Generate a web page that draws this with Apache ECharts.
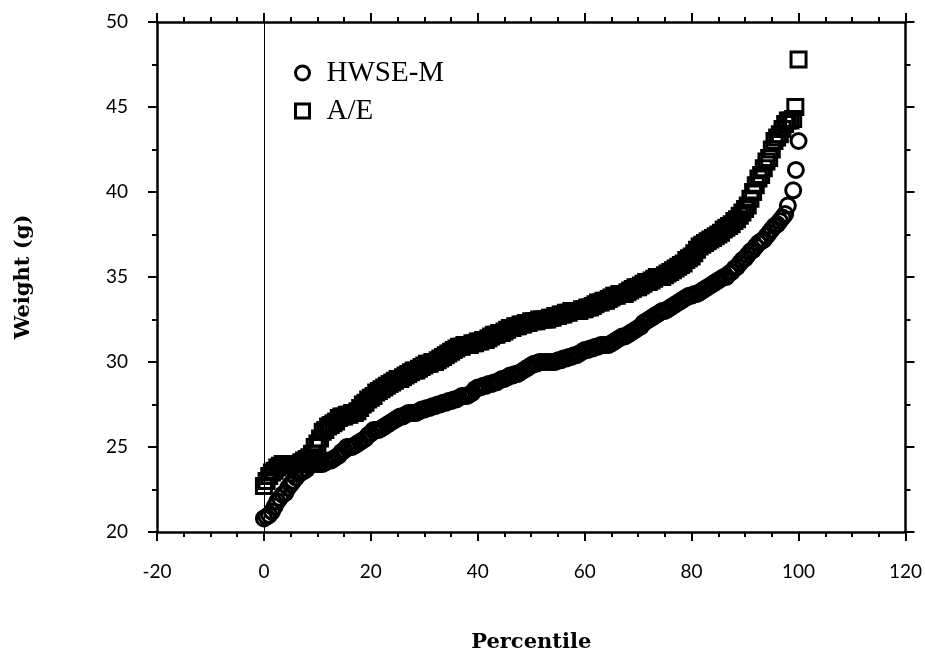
<!DOCTYPE html>
<html>
<head>
<meta charset="utf-8">
<script src="https://cdn.jsdelivr.net/npm/echarts@6/dist/echarts.min.js"></script>
<style>
  html, body { margin: 0; padding: 0; background: #fff; }
  #chart { width: 925px; height: 658px; }
</style>
</head>
<body>
<div id="chart"></div>
<script>
// Percentile vs weight, two methods
const xTicks = { min: -20, max: 120, step: 20 };
const yTicks = { min: 20, max: 50, step: 5 };
const seriesNames = ['HWSE-M', 'A/E'];

// [percentile, weight (g)]
const hwse = [
  [0, 20.8], [0.5, 20.9], [1, 21.0], [1.5, 21.2], [2, 21.5], [2.5, 21.8], [3, 22.0], [3.5, 22.2], [4, 22.3], [4.5, 22.6],
  [5, 22.8], [5.5, 23.0], [6, 23.2], [6.5, 23.4], [7, 23.5], [7.5, 23.6], [8, 23.7], [8.5, 23.9], [9, 24.0], [9.5, 24.0],
  [10, 24.0], [10.5, 24.0], [11, 24.0], [11.5, 24.1], [12, 24.2], [12.5, 24.2], [13, 24.3], [13.5, 24.4], [14, 24.5], [14.5, 24.7],
  [15, 24.8], [15.5, 25.0], [16, 25.0], [16.5, 25.0], [17, 25.1], [17.5, 25.2], [18, 25.3], [18.5, 25.4], [19, 25.5], [19.5, 25.7],
  [20, 25.8], [20.5, 26.0], [21, 26.0], [21.5, 26.0], [22, 26.1], [22.5, 26.2], [23, 26.3], [23.5, 26.4], [24, 26.5], [24.5, 26.6],
  [25, 26.7], [25.5, 26.8], [26, 26.8], [26.5, 26.9], [27, 27.0], [27.5, 27.0], [28, 27.0], [28.5, 27.0], [29, 27.1], [29.5, 27.2],
  [30, 27.2], [30.5, 27.3], [31, 27.3], [31.5, 27.4], [32, 27.4], [32.5, 27.5], [33, 27.5], [33.5, 27.6], [34, 27.6], [34.5, 27.7],
  [35, 27.7], [35.5, 27.8], [36, 27.8], [36.5, 27.9], [37, 28.0], [37.5, 28.0], [38, 28.0], [38.5, 28.1], [39, 28.2], [39.5, 28.4],
  [40, 28.5], [40.5, 28.5], [41, 28.6], [41.5, 28.6], [42, 28.7], [42.5, 28.7], [43, 28.8], [43.5, 28.8], [44, 28.9], [44.5, 29.0],
  [45, 29.0], [45.5, 29.1], [46, 29.2], [46.5, 29.2], [47, 29.3], [47.5, 29.3], [48, 29.4], [48.5, 29.5], [49, 29.6], [49.5, 29.7],
  [50, 29.8], [50.5, 29.9], [51, 29.9], [51.5, 30.0], [52, 30.0], [52.5, 30.0], [53, 30.0], [53.5, 30.0], [54, 30.0], [54.5, 30.0],
  [55, 30.1], [55.5, 30.1], [56, 30.2], [56.5, 30.2], [57, 30.3], [57.5, 30.3], [58, 30.4], [58.5, 30.4], [59, 30.5], [59.5, 30.6],
  [60, 30.7], [60.5, 30.7], [61, 30.8], [61.5, 30.8], [62, 30.9], [62.5, 30.9], [63, 31.0], [63.5, 31.0], [64, 31.0], [64.5, 31.0],
  [65, 31.1], [65.5, 31.2], [66, 31.3], [66.5, 31.4], [67, 31.5], [67.5, 31.5], [68, 31.6], [68.5, 31.7], [69, 31.8], [69.5, 31.9],
  [70, 32.0], [70.5, 32.1], [71, 32.3], [71.5, 32.4], [72, 32.5], [72.5, 32.6], [73, 32.7], [73.5, 32.8], [74, 32.9], [74.5, 33.0],
  [75, 33.0], [75.5, 33.1], [76, 33.2], [76.5, 33.3], [77, 33.4], [77.5, 33.5], [78, 33.6], [78.5, 33.7], [79, 33.8], [79.5, 33.9],
  [80, 33.9], [80.5, 34.0], [81, 34.0], [81.5, 34.1], [82, 34.2], [82.5, 34.3], [83, 34.4], [83.5, 34.5], [84, 34.6], [84.5, 34.7],
  [85, 34.8], [85.5, 34.9], [86, 35.0], [86.5, 35.0], [87, 35.2], [87.5, 35.3], [88, 35.5], [88.5, 35.6], [89, 35.8], [89.5, 36.0],
  [90, 36.1], [90.5, 36.3], [91, 36.5], [91.5, 36.6], [92, 36.8], [92.5, 37.0], [93, 37.1], [93.5, 37.2], [94, 37.4], [94.5, 37.6],
  [95, 37.8], [95.5, 38.0], [96, 38.1], [96.5, 38.3], [97, 38.5], [97.5, 38.7], [98, 39.2], [99, 40.1], [99.5, 41.3], [100, 43.0]
];

const ae = [
  [0, 22.7], [0.5, 23.0], [1, 23.3], [1.5, 23.5], [2, 23.6], [2.5, 23.8], [3, 23.9], [3.5, 24.0], [4, 24.0], [4.5, 24.0],
  [5, 24.0], [5.5, 24.0], [6, 24.0], [6.5, 24.0], [7, 24.1], [7.5, 24.2], [8, 24.3], [8.5, 24.4], [9, 24.6], [9.5, 25.0],
  [10, 25.2], [10.5, 25.5], [11, 25.9], [11.5, 26.0], [12, 26.2], [12.5, 26.3], [13, 26.4], [13.5, 26.5], [14, 26.7], [14.5, 26.8],
  [15, 26.8], [15.5, 26.9], [16, 26.9], [16.5, 27.0], [17, 27.0], [17.5, 27.1], [18, 27.3], [18.5, 27.5], [19, 27.6], [19.5, 27.8],
  [20, 27.9], [20.5, 28.0], [21, 28.2], [21.5, 28.3], [22, 28.4], [22.5, 28.5], [23, 28.6], [23.5, 28.7], [24, 28.8], [24.5, 28.9],
  [25, 29.0], [25.5, 29.0], [26, 29.1], [26.5, 29.2], [27, 29.3], [27.5, 29.4], [28, 29.5], [28.5, 29.5], [29, 29.6], [29.5, 29.7],
  [30, 29.8], [30.5, 29.9], [31, 29.9], [31.5, 30.0], [32, 30.0], [32.5, 30.1], [33, 30.2], [33.5, 30.3], [34, 30.4], [34.5, 30.5],
  [35, 30.6], [35.5, 30.7], [36, 30.8], [36.5, 30.9], [37, 30.9], [37.5, 31.0], [38, 31.0], [38.5, 31.0], [39, 31.1], [39.5, 31.1],
  [40, 31.2], [40.5, 31.2], [41, 31.3], [41.5, 31.3], [42, 31.4], [42.5, 31.5], [43, 31.6], [43.5, 31.6], [44, 31.7], [44.5, 31.7],
  [45, 31.8], [45.5, 31.9], [46, 32.0], [46.5, 32.0], [47, 32.1], [47.5, 32.1], [48, 32.2], [48.5, 32.2], [49, 32.3], [49.5, 32.3],
  [50, 32.4], [50.5, 32.4], [51, 32.4], [51.5, 32.5], [52, 32.5], [52.5, 32.5], [53, 32.5], [53.5, 32.6], [54, 32.6], [54.5, 32.7],
  [55, 32.7], [55.5, 32.8], [56, 32.8], [56.5, 32.9], [57, 32.9], [57.5, 33.0], [58, 33.0], [58.5, 33.0], [59, 33.0], [59.5, 33.1],
  [60, 33.1], [60.5, 33.2], [61, 33.2], [61.5, 33.3], [62, 33.4], [62.5, 33.5], [63, 33.5], [63.5, 33.6], [64, 33.6], [64.5, 33.7],
  [65, 33.8], [65.5, 33.9], [66, 33.9], [66.5, 34.0], [67, 34.0], [67.5, 34.0], [68, 34.1], [68.5, 34.2], [69, 34.3], [69.5, 34.4],
  [70, 34.4], [70.5, 34.5], [71, 34.6], [71.5, 34.7], [72, 34.7], [72.5, 34.8], [73, 34.9], [73.5, 35.0], [74, 35.0], [74.5, 35.0],
  [75, 35.1], [75.5, 35.2], [76, 35.3], [76.5, 35.4], [77, 35.5], [77.5, 35.6], [78, 35.7], [78.5, 35.8], [79, 36.0], [79.5, 36.1],
  [80, 36.2], [80.5, 36.4], [81, 36.6], [81.5, 36.8], [82, 36.9], [82.5, 37.0], [83, 37.1], [83.5, 37.2], [84, 37.3], [84.5, 37.4],
  [85, 37.5], [85.5, 37.6], [86, 37.8], [86.5, 37.9], [87, 38.0], [87.5, 38.1], [88, 38.3], [88.5, 38.4], [89, 38.6], [89.5, 38.8],
  [90, 39.0], [90.5, 39.2], [91, 39.6], [91.5, 40.0], [92, 40.4], [92.5, 40.8], [93, 41.0], [93.5, 41.4], [94, 41.8], [94.5, 42.0],
  [95, 42.5], [95.5, 43.0], [96, 43.2], [96.5, 43.4], [97, 43.7], [97.5, 44.0], [98, 44.2], [98.5, 44.2], [99, 44.3], [99.4, 45.0],
  [100, 47.8]
];

const tickFont = 'Lato, "DejaVu Sans", sans-serif';
const nameFont = { fontFamily: '"DejaVu Serif", serif', fontWeight: 'bold', fontSize: 21, color: '#000' };
const axisLine = { show: true, onZero: false, lineStyle: { color: '#000', width: 2.5 } };
const markerStyle = { color: 'rgba(0,0,0,0)', borderColor: '#000', borderWidth: 3, opacity: 1 };

function xAxis(pos, labels) {
  return {
    type: 'value', position: pos,
    min: xTicks.min, max: xTicks.max, interval: xTicks.step,
    name: labels ? 'Percentile' : '',
    nameLocation: 'middle', nameGap: 100,
    nameTextStyle: nameFont,
    axisLine: axisLine,
    axisTick: { show: true, inside: false, length: 9, lineStyle: { color: '#000', width: 2 } },
    minorTick: { show: true, splitNumber: 4, length: 5, lineStyle: { color: '#000', width: 2 } },
    axisLabel: { show: labels, margin: 30, fontFamily: tickFont, fontSize: 19, color: '#000' },
    splitLine: { show: false }
  };
}

function yAxis(pos, labels) {
  return {
    type: 'value', position: pos,
    min: yTicks.min, max: yTicks.max, interval: yTicks.step,
    name: labels ? 'Weight (g)' : '',
    nameLocation: 'middle', nameGap: 123, nameRotate: 90,
    nameTextStyle: nameFont,
    axisLine: axisLine,
    axisTick: { show: true, inside: false, length: 9, lineStyle: { color: '#000', width: 2 } },
    minorTick: { show: true, splitNumber: 2, length: 5, lineStyle: { color: '#000', width: 2 } },
    axisLabel: { show: labels, margin: 29, fontFamily: tickFont, fontSize: 19, color: '#000' },
    splitLine: { show: false }
  };
}

const chart = echarts.init(document.getElementById('chart'));
chart.setOption({
  backgroundColor: '#fff',
  animation: false,
  grid: { left: 157, right: 18, top: 22, bottom: 121 },
  legend: {
    left: 289, top: 53, orient: 'vertical',
    itemWidth: 14, itemHeight: 14, itemGap: 8,
    textStyle: { fontFamily: '"Liberation Serif", serif', fontSize: 29, color: '#000', lineHeight: 30, padding: [0, 0, 0, 12] },
    data: [
      { name: seriesNames[0], icon: 'circle', itemStyle: { color: '#fff', borderColor: '#000', borderWidth: 3, opacity: 1 } },
      { name: seriesNames[1], icon: 'rect', itemStyle: { color: '#fff', borderColor: '#000', borderWidth: 3, opacity: 1 } }
    ]
  },
  xAxis: [xAxis('bottom', true), xAxis('top', false)],
  yAxis: [yAxis('left', true), yAxis('right', false)],
  series: [
    {
      name: seriesNames[0], type: 'scatter',
      symbol: 'circle', symbolSize: 15,
      itemStyle: markerStyle,
      data: hwse,
      markLine: {
        silent: true, symbol: 'none', label: { show: false },
        lineStyle: { color: '#000', width: 1, type: 'solid', opacity: 1 },
        data: [{ xAxis: 0 }]
      }
    },
    {
      name: seriesNames[1], type: 'scatter',
      symbol: 'rect', symbolSize: 15,
      itemStyle: markerStyle,
      data: ae
    }
  ]
});
</script>
</body>
</html>
